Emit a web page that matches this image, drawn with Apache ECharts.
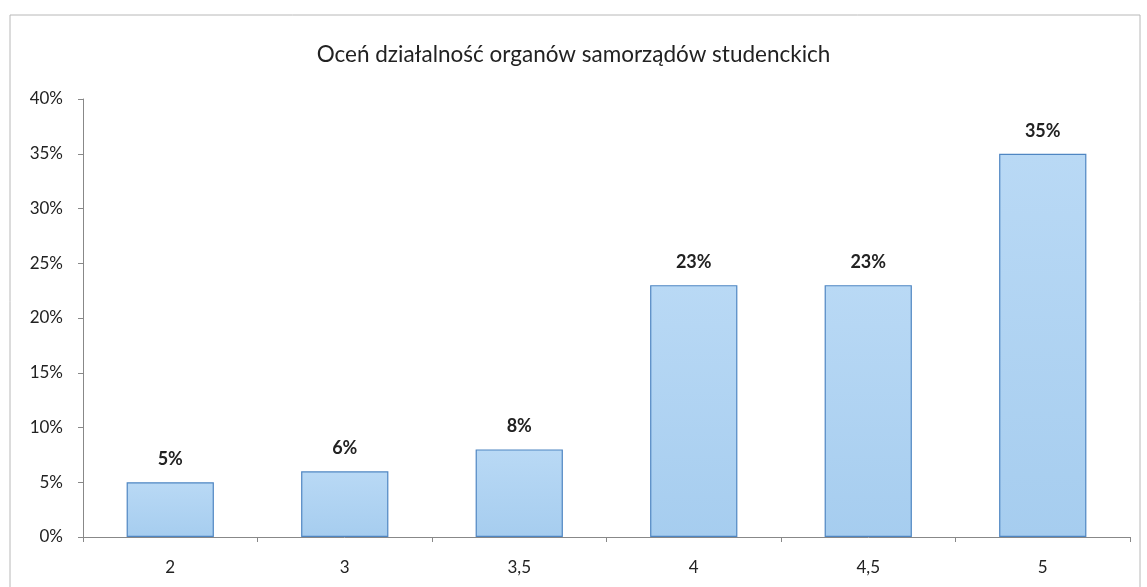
<!DOCTYPE html>
<html><head><meta charset="utf-8">
<script src="https://cdn.jsdelivr.net/npm/echarts@6/dist/echarts.min.js"></script>
<style>html,body{margin:0;padding:0;background:#fff}#c{width:1147px;height:587px}</style>
</head><body><div id="c"></div>
<script>
const titleText = 'Oceń działalność organów samorządów studenckich';
const categories = ['2', '3', '3,5', '4', '4,5', '5'];
const values = [5, 6, 8, 23, 23, 35];
const yTicks = { min: 0, max: 40, interval: 5 };

const chart = echarts.init(document.getElementById('c'), null, { renderer: 'canvas' });
chart.setOption({
  backgroundColor: '#fff',
  animation: false,
  textStyle: { fontFamily: 'Lato, "Open Sans", sans-serif' },
  graphic: [{
    type: 'rect', shape: { x: 10, y: 15, width: 1130, height: 600 },
    style: { fill: 'none', stroke: '#b8b8b8', lineWidth: 1 }, silent: true
  }],
  title: {
    text: titleText, left: 'center', top: 38,
    textStyle: { fontSize: 22.5, fontWeight: 'normal', color: '#222', fontFamily: 'Lato, sans-serif' }
  },
  grid: { left: 83, right: 17, top: 99, bottom: 50, containLabel: false },
  xAxis: {
    type: 'category', data: categories,
    axisLine: { lineStyle: { color: '#888', width: 1 } },
    axisTick: { show: true, length: 5, lineStyle: { color: '#888' } },
    axisLabel: { color: '#222', fontSize: 17, margin: 22 }
  },
  yAxis: {
    type: 'value', min: yTicks.min, max: yTicks.max, interval: yTicks.interval,
    axisLine: { show: true, lineStyle: { color: '#888', width: 1 } },
    axisTick: { show: true, length: 5, lineStyle: { color: '#888' } },
    splitLine: { show: false },
    axisLabel: { color: '#222', fontSize: 17, margin: 20, formatter: v => v + '%' }
  },
  series: [{
    type: 'bar', data: values, barWidth: '50%',
    itemStyle: {
      color: new echarts.graphic.LinearGradient(0, 0, 0, 1, [
        { offset: 0, color: '#b9d9f5' }, { offset: 1, color: '#a6cdef' }
      ]),
      borderColor: '#4f86c2', borderWidth: 1.2
    },
    label: {
      show: true, position: 'top', distance: 14, formatter: p => p.value + '%',
      fontSize: 18, fontWeight: 'bold', color: '#222'
    }
  }]
});
</script></body></html>
